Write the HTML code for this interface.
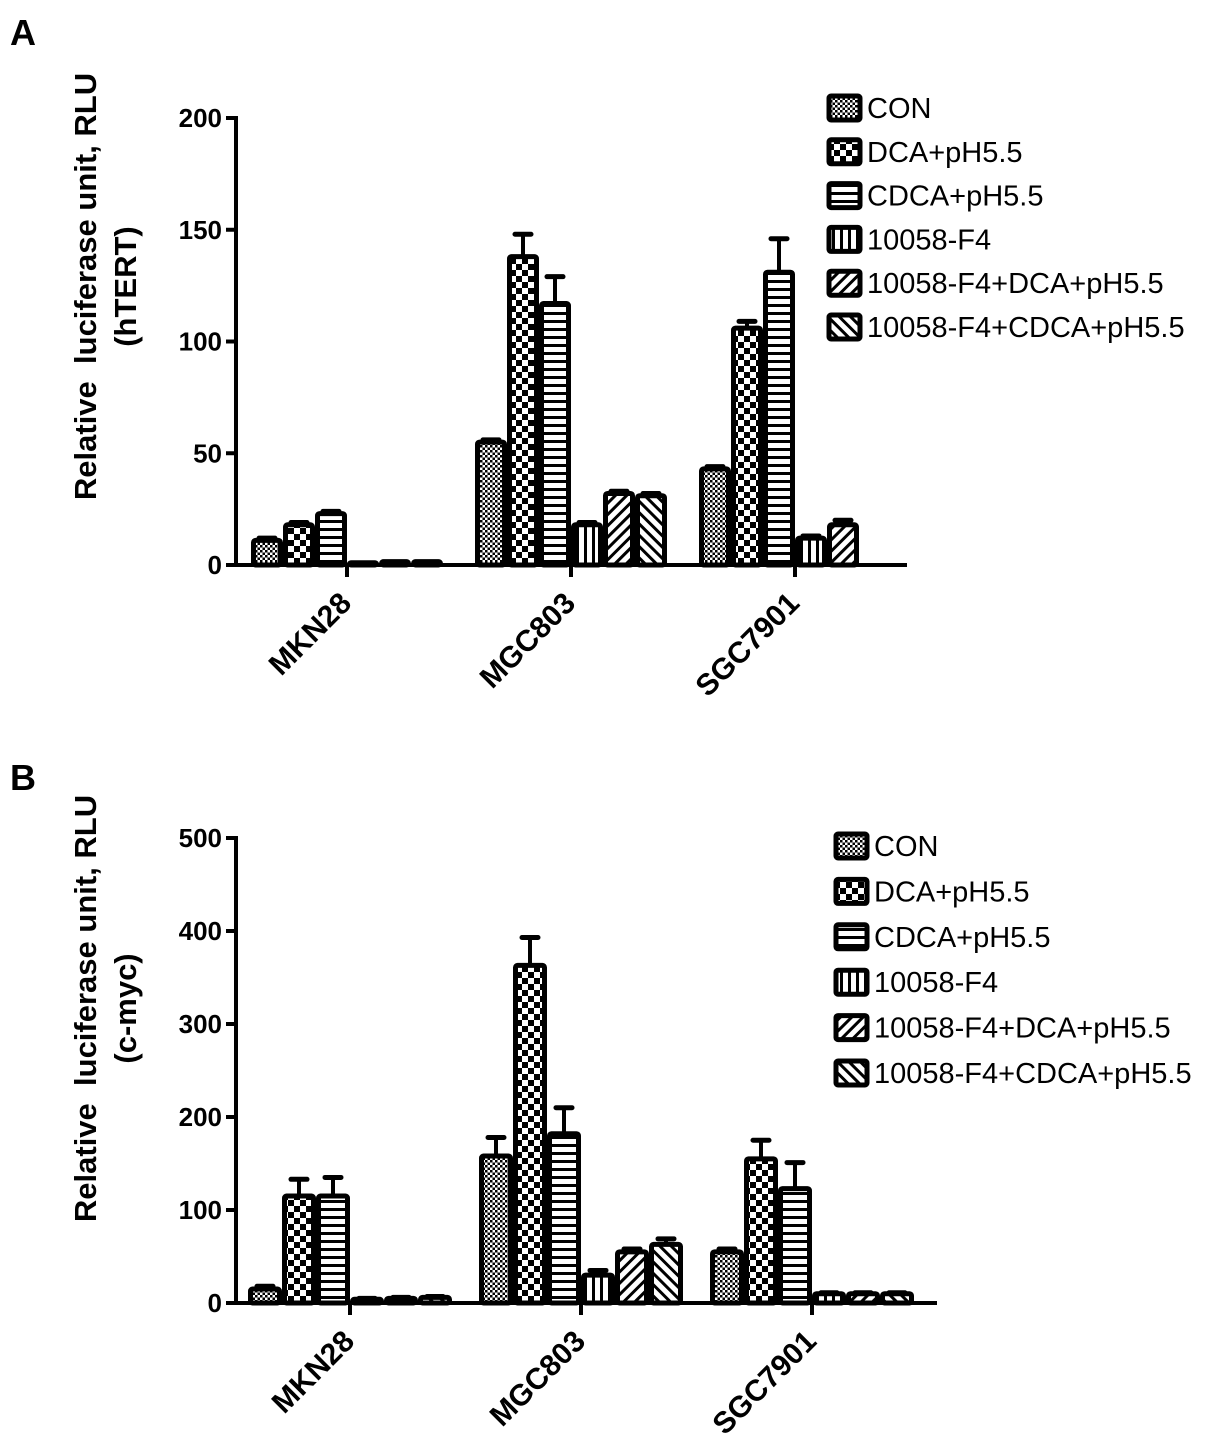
<!DOCTYPE html>
<html><head><meta charset="utf-8"><style>
body{margin:0;background:#fff;}
svg{display:block;font-family:"Liberation Sans",Arial,sans-serif;}
</style></head><body>
<svg id="fig" width="1205" height="1442" viewBox="0 0 1205 1442" xmlns="http://www.w3.org/2000/svg">
<defs>
<pattern id="p0" width="5" height="5" patternUnits="userSpaceOnUse"><rect width="5" height="5" fill="#fff"/><rect width="2.5" height="2.5" fill="#000"/><rect x="2.5" y="2.5" width="2.5" height="2.5" fill="#000"/></pattern>
<pattern id="p1" width="12" height="12" patternUnits="userSpaceOnUse"><rect width="12" height="12" fill="#fff"/><rect width="6" height="6" fill="#000"/><rect x="6" y="6" width="6" height="6" fill="#000"/></pattern>
<pattern id="p2" width="8" height="8" patternUnits="userSpaceOnUse"><rect width="8" height="8" fill="#fff"/><rect width="8" height="3" fill="#000"/></pattern>
<pattern id="p3" width="8" height="8" patternUnits="userSpaceOnUse"><rect width="8" height="8" fill="#fff"/><rect width="3" height="8" fill="#000"/></pattern>
<pattern id="p4" width="8" height="8" patternUnits="userSpaceOnUse" patternTransform="rotate(45)"><rect width="8" height="8" fill="#fff"/><rect width="3" height="8" fill="#000"/></pattern>
<pattern id="p5" width="8" height="8" patternUnits="userSpaceOnUse" patternTransform="rotate(-45)"><rect width="8" height="8" fill="#fff"/><rect width="3" height="8" fill="#000"/></pattern>
</defs>
<text x="10" y="45" font-size="36" font-weight="bold">A</text>
<text x="10" y="790" font-size="36" font-weight="bold">B</text>
</svg>
<script>
const categories = ["MKN28","MGC803","SGC7901"];
const seriesNames = ["CON","DCA+pH5.5","CDCA+pH5.5","10058-F4","10058-F4+DCA+pH5.5","10058-F4+CDCA+pH5.5"];
// Panel A (hTERT): values[series][category]
const valuesA = [[11,55,43],[18,138,106],[23,117,131],[1,18,12],[1.5,32,18],[1.5,31,null]];
const errorsA = [[1,1,1],[1,10,3],[1,12,15],[0,1,1],[0,1,2],[0,1,0]];
const ticksA = [0,50,100,150,200];
// Panel B (c-myc)
const valuesB = [[15,158,55],[115,363,155],[115,182,123],[4,30,10],[5,55,10],[6,63,10]];
const errorsB = [[3,20,3],[18,30,20],[20,28,28],[1,5,1],[1,3,1],[1,6,1]];
const ticksB = [0,100,200,300,400,500];

const NS="http://www.w3.org/2000/svg";
const svg=document.getElementById('fig');
function mk(tag,attrs,parent){const e=document.createElementNS(NS,tag);for(const k in attrs)e.setAttribute(k,attrs[k]);(parent||svg).appendChild(e);return e;}

function panel(cfg){
  const g=mk('g',{});
  
  
  const y=v=>cfg.y0-(v-0)/(cfg.ymax)*(cfg.y0-cfg.ytop);
  const cx=i=>cfg.centers[0]+i*(cfg.centers[1]-cfg.centers[0]);
  for(let s=0;s<cfg.vals.length;s++){
    for(let c=0;c<categories.length;c++){
      const v=cfg.vals[s][c]; if(v==null) continue;
      const x=cx(c)-3*cfg.bw+s*cfg.bw;
      const top=y(v), err=cfg.errs[s][c];
      if(err>0){
        const l=mk('line',{x1:x+cfg.bw/2,x2:x+cfg.bw/2,y1:top,y2:y(v+err),stroke:'#000','stroke-width':4},g);
        
        
        const cap=mk('line',{x1:x+cfg.bw/2-8,x2:x+cfg.bw/2+8,y1:y(v+err),y2:y(v+err),stroke:'#000','stroke-width':5,'stroke-linecap':'round'},g);
        
        
      }
      const r=mk('rect',{x:x+2.5,y:top,width:cfg.bw-5,height:Math.max(cfg.y0-top,0.5),fill:'url(#p'+s+')',stroke:'#000','stroke-width':5,rx:2},g);
      
      
    }
  }
  const ya=mk('line',{x1:cfg.ax,x2:cfg.ax,y1:cfg.ytop-2,y2:cfg.y0+2,stroke:'#000','stroke-width':4},g);
  
  
  const xa=mk('line',{x1:cfg.ax,x2:cfg.xend,y1:cfg.y0,y2:cfg.y0,stroke:'#000','stroke-width':4},g);
  
  
  cfg.ticks.forEach(t=>{
    mk('line',{x1:cfg.ax-10,x2:cfg.ax,y1:y(t),y2:y(t),stroke:'#000','stroke-width':4},g);
    const tl=mk('text',{x:cfg.ax-14,y:y(t)+9,'text-anchor':'end','font-size':26,'font-weight':'bold'},g);
    tl.textContent=t;
    
    
  });
  categories.forEach((c,i)=>{
    mk('line',{x1:cx(i),x2:cx(i),y1:cfg.y0,y2:cfg.y0+12,stroke:'#000','stroke-width':4},g);
    const t=mk('text',{transform:`translate(${cx(i)+6},${cfg.y0+40}) rotate(-45)`,'text-anchor':'end','font-size':30,'font-weight':'bold'},g);
    t.textContent=c;
    
    
  });
  const mid=(cfg.y0+cfg.ytop)/2+cfg.titleShift;
  const t1=mk('text',{transform:`translate(96,${mid}) rotate(-90)`,'text-anchor':'middle','font-size':31,'font-weight':'bold','xml:space':'preserve',style:'white-space:pre'},g);
  t1.textContent='Relative  luciferase unit, RLU';
  
  
  const t2=mk('text',{transform:`translate(136,${mid}) rotate(-90)`,'text-anchor':'middle','font-size':31,'font-weight':'bold'},g);
  t2.textContent=cfg.sub;
  
  
  seriesNames.forEach((n,s)=>{
    const ly=cfg.legY+s*cfg.legDy;
    const lg=mk('g',{},g);
    
    
    mk('rect',{x:cfg.legX+2,y:ly-12,width:31,height:24,fill:'url(#p'+s+')',stroke:'#000','stroke-width':5,rx:2},lg);
    const lt=mk('text',{x:cfg.legX+40,y:ly+10,'font-size':29},lg);
    lt.textContent=n;
  });
}
panel({name:'chart-a-htert',vals:valuesA,errs:errorsA,ticks:ticksA,ymax:200,y0:565,ytop:118,ax:236,xend:907,centers:[347,571],bw:32,sub:'(hTERT)',legX:827,legY:108,legDy:43.8,titleShift:-55});
panel({name:'chart-b-cmyc',vals:valuesB,errs:errorsB,ticks:ticksB,ymax:500,y0:1303,ytop:838,ax:236,xend:937,centers:[350,581],bw:34,sub:'(c-myc)',legX:834,legY:846,legDy:45.4,titleShift:-62});
</script>
</body></html>
